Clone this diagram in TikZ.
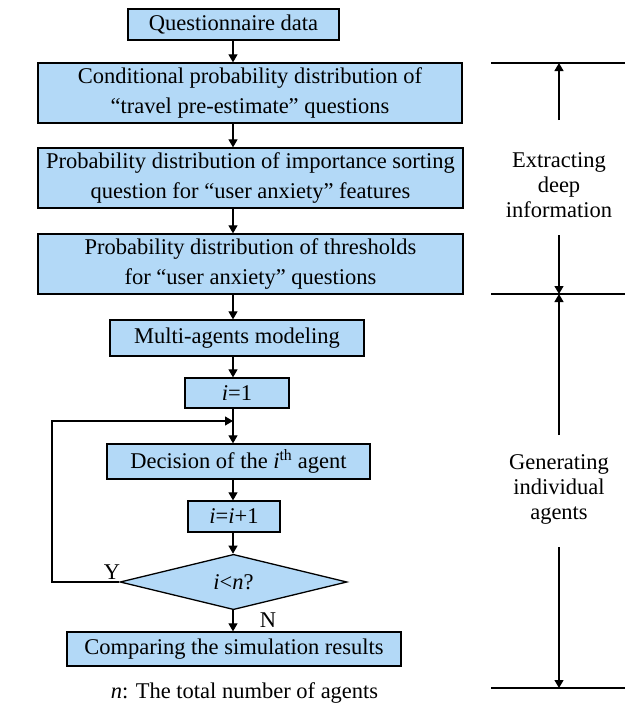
\documentclass[tikz,border=0pt]{standalone}
\usepackage{fontspec}
\setmainfont{Liberation Serif}
\usetikzlibrary{shapes.geometric,arrows.meta}
\definecolor{boxblue}{HTML}{B3D9F7}
\begin{document}
\begin{tikzpicture}[x=1pt,y=-1pt,
  box/.style={draw=black,line width=1.3pt,fill=boxblue,inner sep=0pt,align=center,
    font=\fontsize{22.5}{30}\selectfont},
  dia/.style={draw=black,line width=1.3pt,fill=boxblue,diamond,inner sep=0pt,
    font=\fontsize{22.5}{30}\selectfont},
  arr/.style={line width=1.2pt,-{Triangle[length=8pt,width=9pt]}},
  ln/.style={line width=1.2pt},
  lbl/.style={font=\fontsize{22.5}{30}\selectfont,inner sep=0pt},
  side/.style={font=\fontsize{22.5}{25}\selectfont,align=center,inner sep=0pt}]
\useasboundingbox (0,0) rectangle (625,707);
\node[box,minimum width=211pt,minimum height=31pt] (q) at (233.5,24.5) {Questionnaire data};
\node[box,minimum width=424pt,minimum height=60pt] (c) at (250,93) {Conditional probability distribution of\\“travel pre-estimate” questions};
\node[box,minimum width=425pt,minimum height=60pt] (p) at (250.5,178) {Probability distribution of importance sorting\\question for “user anxiety” features};
\node[box,minimum width=425pt,minimum height=60pt] (t) at (250.5,264) {Probability distribution of thresholds\\for “user anxiety” questions};
\node[box,minimum width=254pt,minimum height=36pt] (m) at (237,338) {Multi-agents modeling};
\node[box,minimum width=104pt,minimum height=30pt] (i1) at (237,393) {\textit{i}=1};
\node[box,minimum width=263pt,minimum height=35pt] (d) at (238.5,461.5) {Decision of the \textit{i}\textsuperscript{th} agent};
\node[box,minimum width=92pt,minimum height=31pt] (ii) at (234,516.5) {\textit{i}=\textit{i}+1};
\node[dia,minimum width=227pt,minimum height=52pt] (k) at (233.5,582) {\textit{i}<\textit{n}?};
\node[box,minimum width=334pt,minimum height=34pt] (r) at (234,649) {Comparing the simulation results};
\node[lbl] (note) at (244.5,693) {\textit{n}: The total number of agents};
\node[lbl] (y) at (112,572) {Y};
\node[lbl] (n) at (268,620) {N};
\coordinate (ax) at (233,0);
\coordinate (loopL) at (52,582);
\coordinate (loopT) at (52,421);
\coordinate (loopE) at (233,421);
\draw[arr] (q.south -| ax) -- (c.north -| ax);
\draw[arr] (c.south -| ax) -- (p.north -| ax);
\draw[arr] (p.south -| ax) -- (t.north -| ax);
\draw[arr] (t.south -| ax) -- (m.north -| ax);
\draw[arr] (m.south -| ax) -- (i1.north -| ax);
\draw[arr] (i1.south -| ax) -- (d.north -| ax);
\draw[arr] (d.south -| ax) -- (ii.north -| ax);
\draw[arr] (ii.south -| ax) -- (k.north -| ax);
\draw[arr] (k.south -| ax) -- (r.north -| ax);
\draw[arr] (k.west) -- (loopL) -- (loopT) -- (loopE);
% right side
\coordinate (l1a) at (491,63); \coordinate (l1b) at (625,63);
\coordinate (l2a) at (491,294); \coordinate (l2b) at (625,294);
\coordinate (l3a) at (491,688); \coordinate (l3b) at (625,688);
\draw[ln] (l1a) -- (l1b);
\draw[ln] (l2a) -- (l2b);
\draw[ln] (l3a) -- (l3b);
\node[side] (e) at (559,185) {Extracting\\deep\\information};
\node[side] (g) at (559,489) {Generating\\individual\\agents};
\coordinate (a1) at (559,120); \coordinate (a1t) at (559,63);
\coordinate (a2) at (559,235); \coordinate (a2t) at (559,294);
\coordinate (a3) at (559,435); \coordinate (a3t) at (559,294);
\coordinate (a4) at (559,547); \coordinate (a4t) at (559,688);
\draw[arr] (a1) -- (a1t);
\draw[arr] (a2) -- (a2t);
\draw[arr] (a3) -- (a3t);
\draw[arr] (a4) -- (a4t);
\end{tikzpicture}
\end{document}
